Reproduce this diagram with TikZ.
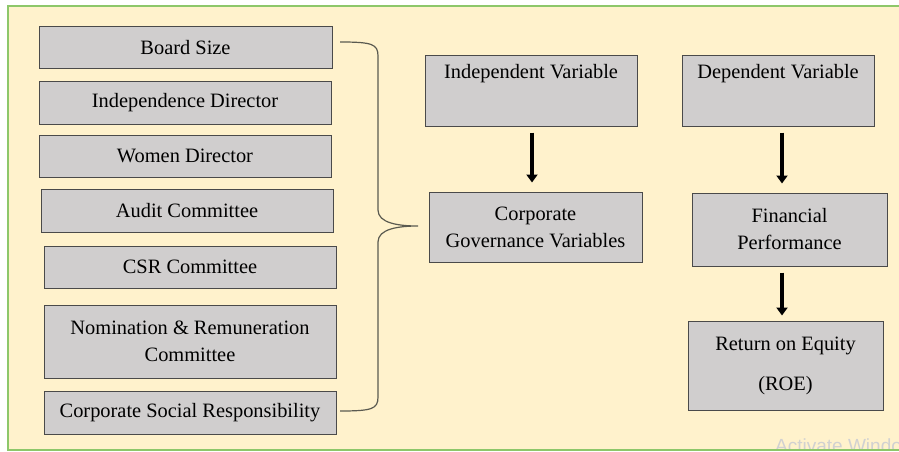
\documentclass[tikz,border=0pt]{standalone}
\usepackage{fontspec}
\setmainfont{Liberation Serif}
\newfontfamily\wmfont{Liberation Sans}
\usetikzlibrary{arrows.meta,calc}
\definecolor{cream}{HTML}{FFF2CC}
\definecolor{framegreen}{HTML}{8DC76A}
\definecolor{boxfill}{HTML}{D0CECE}
\definecolor{boxline}{HTML}{4A4A4A}
\definecolor{bracecol}{HTML}{5A5A50}
\tikzset{
  box/.style={draw=boxline, line width=1pt, fill=boxfill, inner sep=0pt,
    font=\fontsize{20.4pt}{27pt}\selectfont, align=center, text=black},
  txt/.style={inner sep=0pt, font=\fontsize{20.4pt}{27pt}\selectfont, text=black},
  bigarrow/.style={line width=3.8pt, -{Triangle[width=11pt,length=8pt]}},
  bracepath/.style={draw=bracecol, line width=1.2pt}
}
\begin{document}
\begin{tikzpicture}[x=1pt,y=-1pt]
\useasboundingbox (0,0) rectangle (899,452);
\fill[white] (0,0) rectangle (899,452);
\fill[cream] (8,6) rectangle (910,450);
\begin{scope}
  \clip (8,6) rectangle (899,449);
  \node[anchor=north west, inner sep=0pt, text=black!18, font=\wmfont\fontsize{19pt}{22pt}\selectfont] (wm) at (775,439) {Activate Windows};
\end{scope}
\draw[framegreen, line width=2pt] (8,6) rectangle (910,450);

% left column
\node[box, minimum width=293pt, minimum height=42pt] (bs) at (185.5,48) {Board Size};
\node[box, minimum width=292pt, minimum height=43pt] (id) at (185,102.5) {Independence Director};
\node[box, minimum width=292pt, minimum height=42pt] (wd) at (185,156) {Women Director};
\node[box, minimum width=292pt, minimum height=43pt] (ac) at (187,210.5) {Audit Committee};
\node[box, minimum width=292pt, minimum height=42pt] (csr) at (190,267) {CSR Committee};
\node[box, minimum width=292pt, minimum height=73pt] (nr) at (190,341.5) {Nomination \& Remuneration\\Committee};
\node[box, minimum width=292pt, minimum height=43pt] (csp) at (190,412.5) {Corporate Social Responsibility};

% brace
\coordinate (bt) at (340,42);
\coordinate (bb) at (340,411);
\coordinate (tip) at (418,226);
\draw[bracepath] (bt) .. controls (372,42) and (378,44) .. (378,56) -- (378,210)
  .. controls (378,223) and (398,226) .. (tip)
  .. controls (398,226) and (378,229) .. (378,242) -- (378,397)
  .. controls (378,409) and (372,411) .. (bb);

% middle column
\node[box, minimum width=212pt, minimum height=70pt] (iv) at (531,91) {};
\node[txt] (ivt) at (531,74) {Independent Variable};
\node[box, minimum width=213pt, minimum height=70pt] (cg) at (535.5,227) {Corporate\\Governance Variables};
\draw[bigarrow, shorten <=6pt, shorten >=9pt] ([xshift=1pt]iv.south) -- ([xshift=1pt]iv.south |- cg.north);

% right column
\node[box, minimum width=192pt, minimum height=70pt] (dv) at (778,91) {};
\node[txt] (dvt) at (778,74) {Dependent Variable};
\node[box, minimum width=195pt, minimum height=73pt] (fp) at (789.5,229.5) {Financial\\Performance};
\node[box, minimum width=195pt, minimum height=89pt] (roe) at (785.5,365.5) {Return on Equity\\[13pt](ROE)};
\draw[bigarrow, shorten <=6pt, shorten >=9pt] ([xshift=4pt]dv.south) -- ([xshift=4pt]dv.south |- fp.north);
\draw[bigarrow, shorten <=6pt, shorten >=5pt] ([xshift=-7.5pt]fp.south) -- ([xshift=-7.5pt]fp.south |- roe.north);
\end{tikzpicture}
\end{document}
